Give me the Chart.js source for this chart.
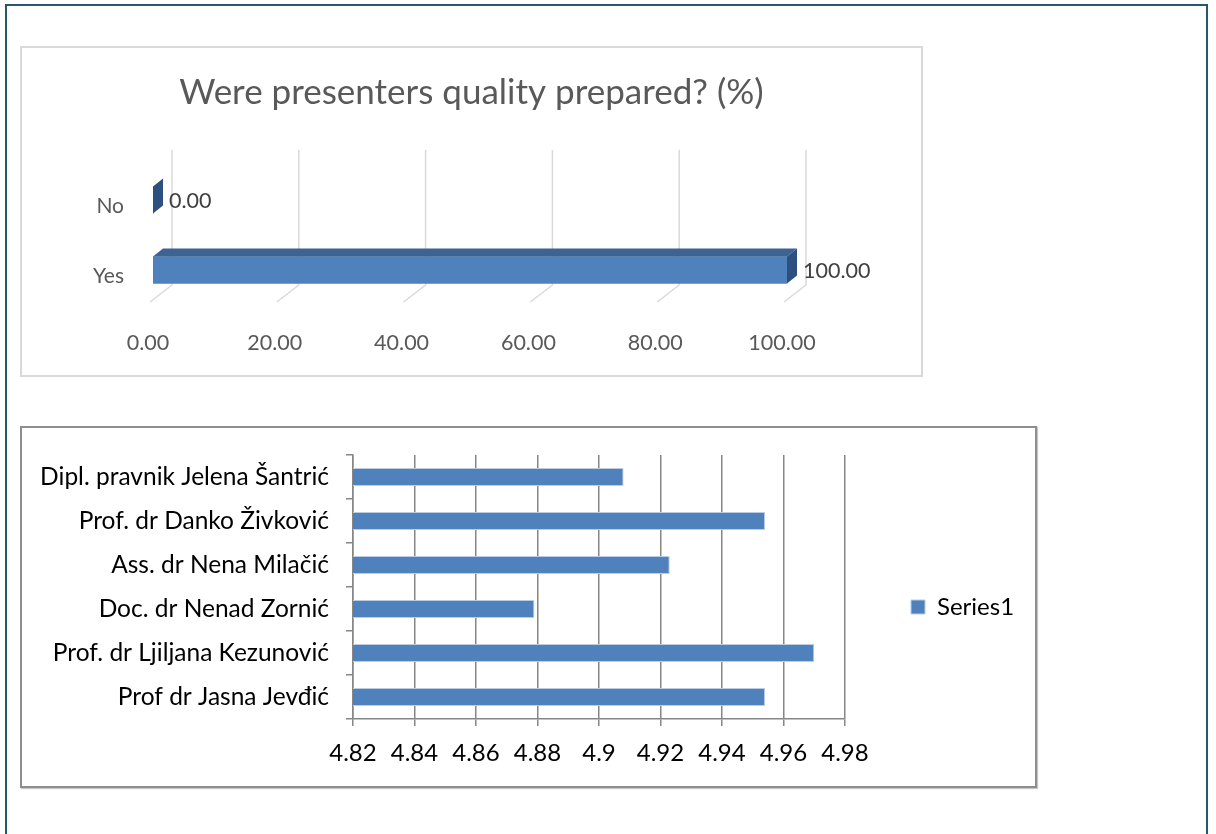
<!DOCTYPE html>
<html>
<head>
<meta charset="utf-8">
<script src="https://cdn.jsdelivr.net/npm/chart.js@4.4.1/dist/chart.umd.min.js"></script>
<style>
  body { margin: 0; background: #fff; width: 1216px; height: 834px; overflow: hidden; position: relative; }
  .frame { position: absolute; left: 5px; top: 4px; width: 1203px; height: 860px; border: 2px solid #245a68; box-sizing: border-box; }
  .box { position: absolute; box-sizing: border-box; }
  #box1 { left: 20px; top: 46px; width: 903px; height: 331px; border: 2px solid #d9d9d9; }
  #box2 { left: 20px; top: 426px; width: 1017px; height: 362px; border: 2px solid #8e8e8e; box-shadow: 1px 1px 1px #c8c8c8; }
  canvas { position: absolute; }
  #chart1 { left: 20px; top: 46px; }
  #chart2 { left: 20px; top: 426px; }
</style>
</head>
<body>
<div class="frame"></div>
<div class="box" id="box1"></div>
<div class="box" id="box2"></div>
<canvas id="chart1" width="903" height="331"></canvas>
<canvas id="chart2" width="1017" height="362"></canvas>
<script>
// data for the top chart
const answerLabels = ['No', 'Yes'];
const answerValues = [0, 100];
const percentMin = 0, percentMax = 100, percentStep = 20;

// data for the bottom chart
const presenterNames = [
  'Dipl. pravnik Jelena Šantrić',
  'Prof. dr Danko Živković',
  'Ass. dr Nena Milačić',
  'Doc. dr Nenad Zornić',
  'Prof. dr Ljiljana Kezunović',
  'Prof dr Jasna Jevđić'
];
const presenterScores = [4.908, 4.954, 4.923, 4.879, 4.97, 4.954];
const scoreMin = 4.82, scoreMax = 4.98, scoreStep = 0.02;

Chart.defaults.font.family = 'Lato, "Open Sans", sans-serif';
Chart.defaults.animation = false;

// fake 3D look like the office chart: back wall grid, floor lines, bar top & side
const bars3d = {
  id: 'bars3d',
  beforeDatasetsDraw(chart) {
    const ctx = chart.ctx;
    const xs = chart.scales.x;
    const area = chart.chartArea;
    ctx.save();
    ctx.strokeStyle = '#d9d9d9';
    ctx.lineWidth = 1.5;
    xs.ticks.forEach(t => {
      const px = xs.getPixelForValue(t.value);
      ctx.beginPath();
      ctx.moveTo(px + 19, area.top - 15);
      ctx.lineTo(px + 19, area.bottom - 20);
      ctx.lineTo(px - 3, area.bottom - 3);
      ctx.stroke();
    });
    ctx.restore();
  },
  afterDatasetsDraw(chart) {
    const ctx = chart.ctx;
    const meta = chart.getDatasetMeta(0);
    const dx = 10, dy = -8;
    ctx.save();
    meta.data.forEach((bar, i) => {
      const p = bar.getProps(['x', 'y', 'base', 'height'], true);
      const l = p.base, r = p.x, t = p.y - p.height / 2, b = p.y + p.height / 2;
      ctx.fillStyle = '#3d6393';
      ctx.beginPath();
      ctx.moveTo(l, t); ctx.lineTo(l + dx, t + dy); ctx.lineTo(r + dx, t + dy); ctx.lineTo(r, t);
      ctx.closePath(); ctx.fill();
      ctx.fillStyle = '#2e5080';
      ctx.beginPath();
      ctx.moveTo(r, t); ctx.lineTo(r + dx, t + dy); ctx.lineTo(r + dx, b + dy); ctx.lineTo(r, b);
      ctx.closePath(); ctx.fill();
      ctx.fillStyle = '#404040';
      ctx.font = '21.5px ' + Chart.defaults.font.family;
      ctx.textAlign = 'left';
      ctx.textBaseline = 'middle';
      ctx.fillText(answerValues[i].toFixed(2), r + 16, p.y + 1);
    });
    ctx.restore();
  }
};

const chartAnswers = new Chart(document.getElementById('chart1'), {
  type: 'bar',
  data: {
    labels: answerLabels,
    datasets: [{
      data: answerValues,
      backgroundColor: '#4f81bd',
      borderWidth: 0,
      barThickness: 27
    }]
  },
  options: {
    indexAxis: 'y',
    responsive: false,
    layout: { padding: 0 },
    plugins: {
      legend: { display: false },
      tooltip: { enabled: false },
      title: {
        display: true,
        text: 'Were presenters quality prepared? (%)',
        color: '#595959',
        font: { size: 35, weight: 'normal' },
        padding: { top: 26, bottom: 51 }
      }
    },
    scales: {
      x: {
        min: percentMin,
        max: percentMax,
        grid: { display: false, drawTicks: false },
        border: { display: false },
        ticks: {
          stepSize: percentStep,
          color: '#595959',
          font: { size: 21.5 },
          padding: 25,
          labelOffset: -5,
          callback: v => Number(v).toFixed(2)
        },
        afterFit: s => { s.height = 72; s.paddingRight = 136; }
      },
      y: {
        grid: { display: false, drawTicks: false },
        border: { display: false },
        ticks: { color: '#595959', font: { size: 21 }, padding: 29, labelOffset: 6 },
        afterFit: s => { s.width = 133; }
      }
    }
  },
  plugins: [bars3d]
});

const chartPresenters = new Chart(document.getElementById('chart2'), {
  type: 'bar',
  data: {
    labels: presenterNames,
    datasets: [{
      label: 'Series1',
      data: presenterScores,
      backgroundColor: '#4f81bd',
      borderColor: '#b9cde5',
      borderWidth: 1,
      barPercentage: 0.41,
      categoryPercentage: 1
    }]
  },
  options: {
    indexAxis: 'y',
    responsive: false,
    layout: { padding: 0 },
    plugins: {
      tooltip: { enabled: false },
      legend: {
        position: 'right',
        labels: {
          color: '#000',
          font: { size: 24 },
          boxWidth: 14,
          boxHeight: 14,
          padding: 66
        }
      }
    },
    scales: {
      x: {
        min: scoreMin,
        max: scoreMax,
        grid: { color: '#868686', lineWidth: 1.5, tickLength: 7 },
        border: { color: '#868686', width: 1.5 },
        ticks: {
          stepSize: scoreStep,
          color: '#000',
          font: { size: 24 },
          padding: 13,
          callback: v => String(Number(Number(v).toFixed(2)))
        },
        afterFit: s => { s.height = 69; s.paddingRight = 192; }
      },
      y: {
        grid: { color: '#868686', lineWidth: 1.5, tickLength: 7, drawOnChartArea: false },
        border: { color: '#868686', width: 1.5 },
        ticks: { color: '#000', font: { size: 24.5 }, padding: 17 },
        afterFit: s => { s.width = 333; s.paddingTop = 29; }
      }
    }
  }
});
</script>
</body>
</html>
